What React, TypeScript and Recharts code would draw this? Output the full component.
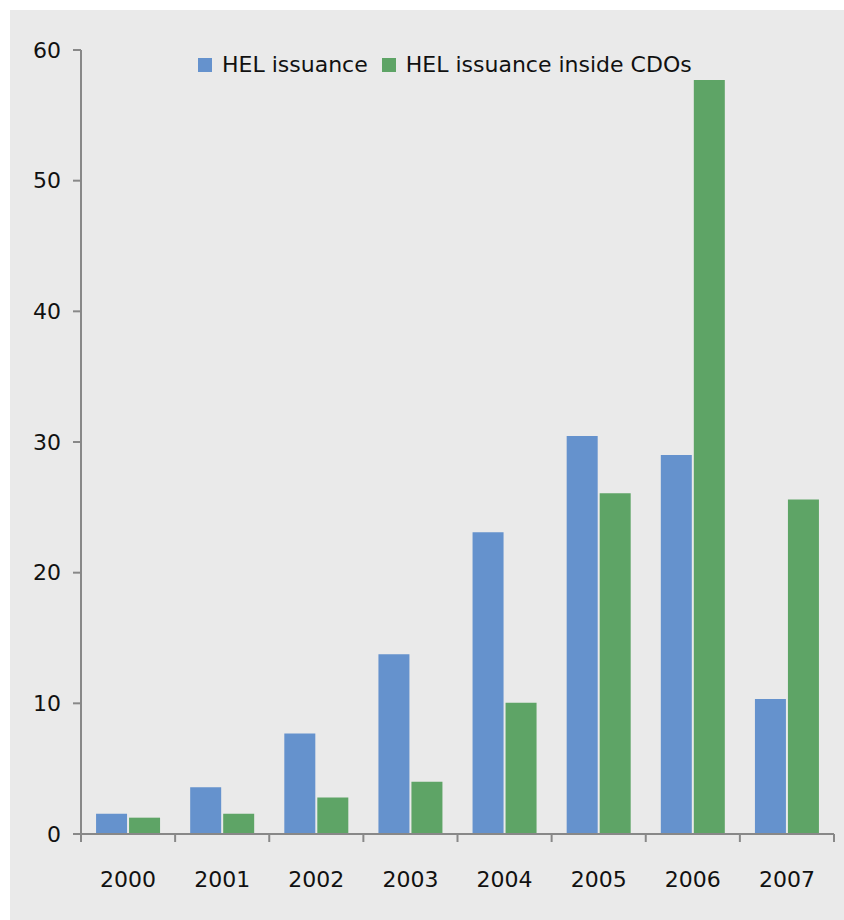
import React from 'react';
import { BarChart, Bar, XAxis, YAxis, Legend } from 'recharts';

const years = ['2000', '2001', '2002', '2003', '2004', '2005', '2006', '2007'];
const helIssuance = [1.55, 3.57, 7.7, 13.75, 23.1, 30.45, 29.0, 10.33];
const helInsideCdos = [1.25, 1.55, 2.8, 4.0, 10.05, 26.07, 57.7, 25.6];
const yTicks = [0, 10, 20, 30, 40, 50, 60];

const seriesNames = ['HEL issuance', 'HEL issuance inside CDOs'];
const seriesColors = ['#6592cd', '#5ea466'];

const data = years.map((y, i) => ({
  year: y,
  hel: helIssuance[i],
  cdo: helInsideCdos[i],
}));

const FONT = '"DejaVu Sans", sans-serif';
const FONT_SIZE = 22;
const AXIS_COLOR = '#888888';
const TICK_SIZE = 8;
const X_TICK_MARGIN = 29;

const XTick = (props: any) => {
  const { x, y, payload, index } = props;
  const half = payload && typeof payload.offset === 'number' && payload.offset > 0 ? payload.offset : 47.06;
  const axisY = y - TICK_SIZE - X_TICK_MARGIN;
  return (
    <g>
      <line x1={x - half} y1={axisY} x2={x - half} y2={axisY + TICK_SIZE} stroke={AXIS_COLOR} strokeWidth={2} />
      {index === years.length - 1 && (
        <line x1={x + half} y1={axisY} x2={x + half} y2={axisY + TICK_SIZE} stroke={AXIS_COLOR} strokeWidth={2} />
      )}
      <text x={x} y={y} dy="0.71em" textAnchor="middle" fill="#111" fontFamily={FONT} fontSize={FONT_SIZE}>
        {payload.value}
      </text>
    </g>
  );
};

const LegendContent = (props: any) => {
  const payload = props.payload || [];
  return (
    <div style={{ display: 'flex', alignItems: 'center', height: 26, whiteSpace: 'nowrap' }}>
      {payload.map((p: any, i: number) => (
        <div key={i} style={{ display: 'flex', alignItems: 'center', marginRight: 14 }}>
          <span style={{ display: 'inline-block', width: 14, height: 14, background: p.color, marginRight: 10 }} />
          <span style={{ fontFamily: FONT, fontSize: FONT_SIZE, color: '#111', lineHeight: '26px' }}>{p.value}</span>
        </div>
      ))}
    </div>
  );
};

export default function App() {
  return (
    <div style={{ position: 'absolute', left: 10, top: 10, width: 834, height: 910, background: '#eaeaea' }}>
      <BarChart
        width={834}
        height={910}
        data={data}
        margin={{ top: 40, right: 10, bottom: 0, left: 11 }}
        barCategoryGap="16%"
        barGap={2}
      >
        <XAxis
          dataKey="year"
          height={86}
          stroke={AXIS_COLOR}
          strokeWidth={2}
          tickLine={false}
          tickSize={TICK_SIZE}
          tickMargin={X_TICK_MARGIN}
          interval={0}
          tick={<XTick />}
        />
        <YAxis
          width={60}
          domain={[0, 60]}
          ticks={yTicks}
          stroke={AXIS_COLOR}
          strokeWidth={2}
          tickSize={TICK_SIZE}
          tickMargin={12}
          tick={{ fill: '#111', fontFamily: FONT, fontSize: FONT_SIZE }}
          tickLine={{ stroke: AXIS_COLOR, strokeWidth: 2 }}
        />
        <Legend
          layout="horizontal"
          verticalAlign="middle"
          align="center"
          wrapperStyle={{ top: 42, left: 188, width: 600 }}
          content={<LegendContent />}
        />
        <Bar dataKey="hel" name={seriesNames[0]} fill={seriesColors[0]} isAnimationActive={false} />
        <Bar dataKey="cdo" name={seriesNames[1]} fill={seriesColors[1]} isAnimationActive={false} />
      </BarChart>
    </div>
  );
}
